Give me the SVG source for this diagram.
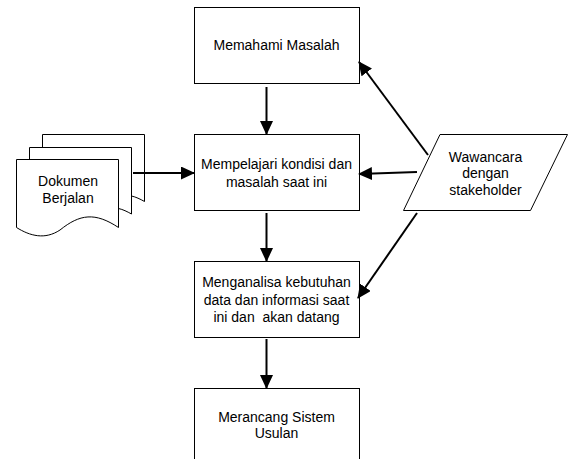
<svg xmlns="http://www.w3.org/2000/svg" width="574" height="459" viewBox="0 0 574 459">
<style>
.box{fill:#fff;stroke:#000;stroke-width:1}
.t{font-family:"Liberation Sans",Arial,sans-serif;font-size:14px;fill:#000;text-anchor:middle;white-space:pre}
.c{stroke:#000;stroke-width:2;fill:none;marker-end:url(#ah)}
</style>
<defs>
<marker id="ah" markerUnits="userSpaceOnUse" markerWidth="14" markerHeight="13" refX="13" refY="6.5" orient="auto">
<path d="M0,0 L14,6.5 L0,13 z" fill="#000"/>
</marker>
</defs>
<rect width="574" height="459" fill="#fff"/>
<g id="n1">
<rect class="box" x="194.5" y="7.5" width="165" height="76"/>
<text class="t" x="276.5" y="50">Memahami Masalah</text>
</g>
<g id="n2">
<rect class="box" x="194.5" y="134.5" width="165" height="76"/>
<text class="t" x="276.5" y="168.5">Mempelajari kondisi dan</text>
<text class="t" x="276.5" y="187">masalah saat ini</text>
</g>
<g id="n3">
<rect class="box" x="194.5" y="261.5" width="165" height="76"/>
<text class="t" x="276.5" y="287">Menganalisa kebutuhan</text>
<text class="t" x="276.5" y="305">data dan informasi saat</text>
<text class="t" x="276.5" y="322" xml:space="preserve">ini dan  akan datang</text>
</g>
<g id="n4">
<rect class="box" x="194.5" y="388.5" width="165" height="90"/>
<text class="t" x="276.5" y="421.5">Merancang Sistem</text>
<text class="t" x="276.5" y="438">Usulan</text>
</g>
<g id="doc">
<path class="box" d="M42.5,147.5 V134.5 H144.5 V201.5 C140,199 136,197 131.5,196"/>
<path class="box" d="M29.5,159.5 V147.5 H131.5 V214 C127,211.5 123,209.5 118.5,208.5"/>
<path class="box" d="M16.5,159.5 H118.5 V227.5 C95,212 80,214 60,230 C45,240 30,236 16.5,227.5 Z"/>
<text class="t" x="68" y="186">Dokumen</text>
<text class="t" x="68" y="203">Berjalan</text>
</g>
<g id="n5">
<path class="box" d="M440,134.5 H567.5 L530.5,210.5 H403.5 Z"/>
<text class="t" x="485.5" y="161.5">Wawancara</text>
<text class="t" x="485.5" y="178">dengan</text>
<text class="t" x="485.5" y="195">stakeholder</text>
</g>
<g id="connectors">
<line class="c" x1="266.5" y1="87" x2="266.5" y2="134"/>
<line class="c" x1="266.5" y1="213" x2="266.5" y2="261"/>
<line class="c" x1="266.5" y1="339" x2="266.5" y2="388"/>
<line class="c" x1="133" y1="173" x2="194" y2="173"/>
<line class="c" x1="428" y1="155" x2="359" y2="62"/>
<line class="c" x1="417" y1="172" x2="359" y2="174"/>
<line class="c" x1="417" y1="213" x2="358" y2="298"/>
</g>
</svg>
